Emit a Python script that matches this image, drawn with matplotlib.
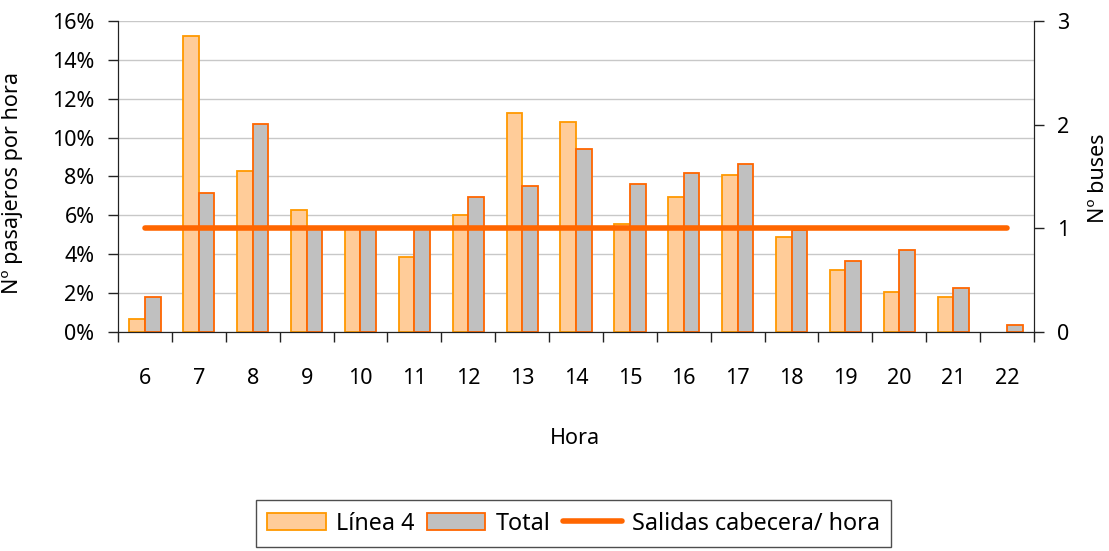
import matplotlib.pyplot as plt
import numpy as np
from matplotlib.patches import Patch
from matplotlib.lines import Line2D
from matplotlib.ticker import FuncFormatter

plt.rcParams['font.family'] = ['Noto Sans', 'DejaVu Sans']

# Pasajeros por hora (% del total diario) y salidas de cabecera
horas = [6, 7, 8, 9, 10, 11, 12, 13, 14, 15, 16, 17, 18, 19, 20, 21, 22]
linea4 = [0.67, 15.23, 8.30, 6.27, 5.30, 3.86, 6.02, 11.26, 10.81, 5.58, 6.94, 8.09, 4.89, 3.18, 2.05, 1.82, 0.0]
total = [1.81, 7.16, 10.69, 5.40, 5.40, 5.35, 6.94, 7.50, 9.43, 7.61, 8.19, 8.66, 5.25, 3.63, 4.22, 2.27, 0.34]
salidas = [1] * 17

FS = 15.5
x = np.arange(len(horas))
w = 0.29

fig = plt.figure(figsize=(11.09, 5.51), dpi=100)
ax = fig.add_axes([0.1064, 0.3975, 0.8260, 0.5644])
ax2 = ax.twinx()

b1 = ax.bar(x - w / 2, linea4, w, color='#FFCC99', edgecolor='#FF9900', linewidth=1.3, zorder=2)
b2 = ax.bar(x + w / 2, total, w, color='#C0C0C0', edgecolor='#FF6600', linewidth=1.3, zorder=2)
# no dibujar el borde de las barras con valor cero
for bars in (b1, b2):
    for p in bars:
        if p.get_height() == 0:
            p.set_visible(False)
ax2.plot(x, salidas, color='#FF6600', linewidth=4, solid_capstyle='round', zorder=3)

ax.set_xlim(-0.5, len(horas) - 0.5)
ax.set_ylim(0, 16)
ax.set_yticks(np.arange(0, 17, 2))
ax.yaxis.set_major_formatter(FuncFormatter(lambda v, p: '%d%%' % v))
ax.grid(axis='y', color='#C8C8C8', linewidth=1, zorder=0)
ax.set_axisbelow(True)

ax.set_xticks(np.arange(-0.5, len(horas), 1))
ax.set_xticklabels([])
ax.set_xticks(x, minor=True)
ax.set_xticklabels([str(h) for h in horas], minor=True, fontsize=FS)
ax.tick_params(axis='x', which='major', length=7, direction='out', width=1, color='#222222')
ax.tick_params(axis='x', which='minor', length=0, pad=26)
ax.tick_params(axis='y', length=7, width=1, pad=10, labelsize=FS, color='#222222')

ax2.set_ylim(0, 3)
ax2.set_yticks([0, 1, 2, 3])
ax2.tick_params(axis='y', length=7, width=1, pad=9.5, labelsize=FS, color='#222222')

for a in (ax, ax2):
    a.spines['top'].set_visible(False)
    for s in ('left', 'right', 'bottom'):
        a.spines[s].set_color('#222222')

fig.text(0.5185, 1 - 438 / 551, 'Hora', fontsize=FS, ha='center', va='center')
fig.text(13 / 1109, 1 - 183 / 551, 'Nº pasajeros por hora', fontsize=FS, rotation=90,
         ha='center', va='center')
fig.text(1099 / 1109, 1 - 178 / 551, 'Nº buses', fontsize=FS, rotation=90,
         ha='center', va='center')

handles = [
    Patch(facecolor='#FFCC99', edgecolor='#FF9900', linewidth=1.3),
    Patch(facecolor='#C0C0C0', edgecolor='#FF6600', linewidth=1.3),
    Line2D([0], [0], color='#FF6600', linewidth=4, solid_capstyle='round'),
]
leg = fig.legend(handles, ['Línea 4', 'Total', 'Salidas cabecera/ hora'],
                 loc='upper center', bbox_to_anchor=(0.5171, 0.0926), ncol=3,
                 fontsize=16.8, frameon=True, fancybox=False, handlelength=2.5,
                 handleheight=0.75, handletextpad=0.43, columnspacing=0.55,
                 borderpad=0.5, borderaxespad=0)
leg.get_frame().set_edgecolor('#222222')
leg.get_frame().set_linewidth(1)

fig.savefig('out.png', dpi=100)
